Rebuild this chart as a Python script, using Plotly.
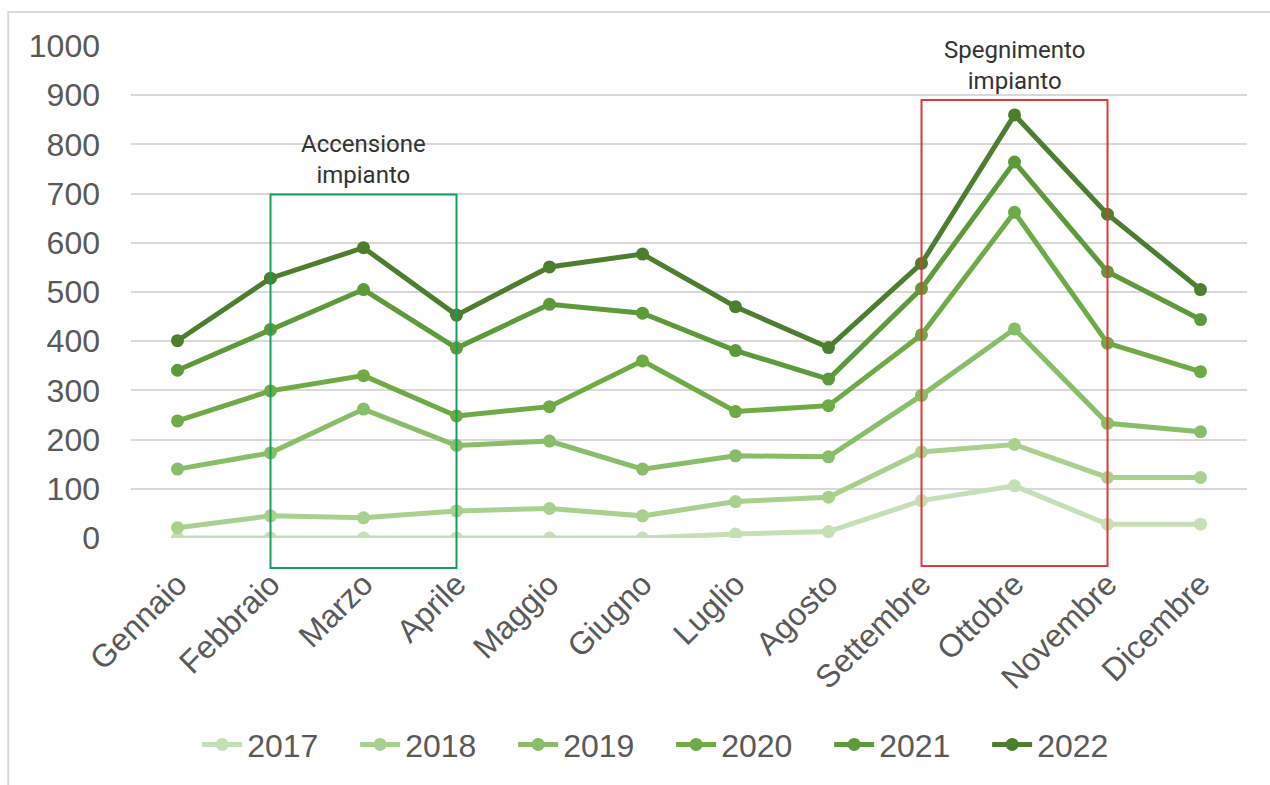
import plotly.graph_objects as go

months = ["Gennaio", "Febbraio", "Marzo", "Aprile", "Maggio", "Giugno",
          "Luglio", "Agosto", "Settembre", "Ottobre", "Novembre", "Dicembre"]

y2017 = [0, 0, 0, 0, 0, 0, 8, 13, 76, 106, 28, 28]
y2018 = [21, 45, 41, 55, 60, 45, 74, 83, 175, 190, 123, 123]
y2019 = [140, 173, 262, 188, 197, 140, 167, 165, 290, 425, 233, 216]
y2020 = [238, 299, 330, 248, 267, 360, 257, 269, 413, 662, 396, 338]
y2021 = [341, 424, 505, 386, 475, 457, 381, 323, 507, 764, 541, 444]
y2022 = [401, 528, 590, 453, 551, 577, 470, 387, 558, 860, 658, 505]

series = [
    ("2017", y2017, "#C5E0B4"),
    ("2018", y2018, "#A9D18E"),
    ("2019", y2019, "#88BE68"),
    ("2020", y2020, "#6FAB45"),
    ("2021", y2021, "#5D9A3A"),
    ("2022", y2022, "#4C7E2E"),
]

fig = go.Figure()
for name, vals, color in series:
    fig.add_trace(go.Scatter(
        x=months, y=vals, name=name, mode="lines+markers",
        line=dict(color=color, width=5),
        marker=dict(color=color, size=13),
    ))

label_font = dict(family="Liberation Sans", size=32, color="#595959")
note_font = dict(family="Roboto", size=24, color="#333333")

fig.update_layout(
    width=1270, height=785,
    margin=dict(l=131, r=23, t=46, b=247),
    paper_bgcolor="white", plot_bgcolor="white",
    showlegend=True,
    legend=dict(orientation="h", x=0.484, xanchor="center", y=-0.42,
                yanchor="middle", font=label_font, itemwidth=40,
                entrywidth=103, entrywidthmode="pixels",
                tracegroupgap=0),
    xaxis=dict(type="category", range=[-0.5, 11.5], tickangle=-45,
               tickfont=label_font, showgrid=False, zeroline=False,
               showline=False, ticks="", ticklabelstandoff=20),
    yaxis=dict(range=[0, 1000], dtick=100, tickfont=label_font,
               showgrid=True, gridcolor="#D9D9D9", gridwidth=2,
               zeroline=False, showline=False, ticklabelstandoff=30),
    shapes=[
        # outer chart frame
        dict(type="rect", xref="paper", yref="paper",
             x0=-0.110, x1=1.03, y0=-0.52, y1=1.069,
             line=dict(color="#D9D9D9", width=2), layer="below"),
        # heating start period
        dict(type="rect", xref="x", yref="paper", x0=1, x1=3,
             y0=-0.061, y1=0.698,
             line=dict(color="#13A05E", width=2), fillcolor="rgba(0,0,0,0)"),
        # heating stop period
        dict(type="rect", xref="x", yref="paper", x0=8, x1=10,
             y0=-0.057, y1=0.890,
             line=dict(color="#E0393A", width=2), fillcolor="rgba(0,0,0,0)"),
    ],
    annotations=[
        dict(text="Accensione<br>impianto", x=2, xref="x", y=0.706,
             yref="paper", yanchor="bottom", showarrow=False, font=note_font),
        dict(text="Spegnimento<br>impianto", x=9, xref="x", y=0.896,
             yref="paper", yanchor="bottom", showarrow=False, font=note_font),
    ],
)

fig.write_html("out.html")
